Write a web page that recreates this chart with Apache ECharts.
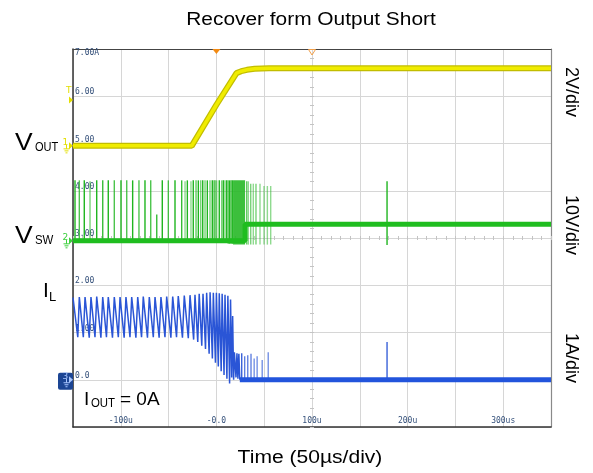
<!DOCTYPE html>
<html>
<head>
<meta charset="utf-8">
<script src="https://cdn.jsdelivr.net/npm/echarts@6/dist/echarts.min.js"></script>
<style>
html,body{margin:0;padding:0;background:#ffffff;}
#chart{width:593px;height:473px;}
</style>
</head>
<body>
<div id="chart"></div>
<script>
// ---- tick labels (x in microseconds, y in divisions) ----
const xTickValues = [-100, 0, 100, 200, 300];
const xTickLabels = ['-100u', '-0.0', '100u', '200u', '300us'];
const yTickValues = [0, 1, 2, 3, 4, 5, 6, 7];
const yTickLabels = ['0.0', '1.00', '2.00', '3.00', '4.00', '5.00', '6.00', '7.00A'];

// ---- CH1 VOUT (divisions) ----
const voutT = [-150, -25.8, 0, 21, 26, 32, 40, 55, 350];
const voutV = [4.95, 4.95, 5.82, 6.49, 6.53, 6.56, 6.58, 6.59, 6.59];

// ---- CH2 VSW (divisions) ----
const vswBaseT = [-150, 30, 30, 350];
const vswBaseV = [2.94, 2.94, 3.29, 3.29];
const vswBurst = [[17.4, 30.0, 2.86, 4.22]];           // [tStart, tEnd, low, high]
const vswSpikes = [                                      // [t, low, high, strength]
  [-147.9, 2.94, 4.22, 1], [-143.4, 2.94, 4.22, 0.8], [-138.2, 2.94, 4.22, 1], [-132.2, 2.94, 4.2, 0.6],
  [-125.2, 2.94, 4.22, 1], [-118.9, 2.94, 4.22, 0.9], [-113.1, 2.94, 4.22, 1], [-106.8, 2.94, 4.22, 0.8],
  [-99.8, 2.94, 4.22, 1], [-93.8, 2.94, 4.22, 0.8], [-87.6, 2.94, 4.22, 1], [-81.0, 2.94, 4.22, 0.8],
  [-74.7, 2.94, 4.22, 1], [-68.7, 2.94, 4.22, 0.8], [-62.4, 2.94, 3.5, 0.9], [-56.6, 2.94, 4.22, 1],
  [-50.3, 2.94, 4.22, 0.8], [-43.3, 2.94, 4.22, 1], [-36.3, 2.94, 4.22, 0.9], [-32.8, 2.94, 4.2, 0.5],
  [-30.4, 2.94, 4.22, 1], [-26.6, 2.94, 4.2, 0.5], [-24.2, 2.94, 4.22, 1], [-21.3, 2.94, 4.22, 0.7],
  [-18.9, 2.94, 4.22, 1], [-16.4, 2.94, 4.22, 0.6], [-14.3, 2.94, 4.22, 1], [-11.9, 2.94, 4.22, 0.6],
  [-9.5, 2.94, 4.22, 1], [-6.7, 2.94, 4.22, 0.6], [-4.3, 2.94, 4.22, 1], [-2.8, 2.94, 4.22, 0.5],
  [-1.5, 2.94, 4.22, 0.9], [0.3, 2.94, 4.22, 0.6], [3.0, 2.94, 4.22, 1], [5.5, 2.94, 4.22, 0.6],
  [7.2, 2.90, 4.22, 1], [9.0, 2.90, 4.22, 0.6], [10.8, 2.90, 4.22, 1], [12.4, 2.88, 4.22, 0.7],
  [13.9, 2.88, 4.22, 1], [15.3, 2.88, 4.22, 0.7], [16.6, 2.88, 4.22, 1],
  [31.7, 2.86, 4.2, 0.7], [33.4, 2.86, 4.2, 0.5], [35.9, 2.86, 4.15, 0.6], [38.6, 2.86, 4.15, 0.5],
  [41.4, 2.86, 4.15, 0.6], [45.6, 2.86, 4.15, 0.5], [49.8, 2.86, 4.1, 0.5], [53.3, 2.86, 4.1, 0.5],
  [56.8, 2.86, 4.1, 0.5], [178.5, 2.85, 4.2, 1]
];

// ---- CH3 IL (divisions) ----
const ilT = [-150, -145.0, -143.4, -139.2, -137.4, -133.0, -131.2, -127.0, -125.2, -120.8, -118.9, -115.0,
  -113.1, -108.7, -106.8, -102.6, -100.8, -96.5, -94.6, -90.4, -88.6, -84.2, -82.3, -78.3, -76.5, -72.1,
  -70.2, -66.0, -64.2, -59.9, -58.0, -53.8, -52.0, -47.6, -45.7, -41.7, -39.9, -35.5, -33.6, -29.4, -27.6,
  -23.8, -22.4, -19.5, -18.0, -15.3, -14.0, -11.4, -10.2, -7.6, -6.6, -4.2, -3.2, -1.0, 0.0, 2.0, 3.0, 5.0,
  6.0, 8.0, 9.0, 11.0, 12.0, 13.8, 14.8, 16.0, 17.0, 18.0, 18.8, 19.5, 20.5, 21.5, 22.5, 23.5, 24.5];
const ilV = [1.74, 0.90, 1.75, 0.90, 1.75, 0.89, 1.75, 0.90, 1.76, 0.89, 1.75, 0.90,
  1.75, 0.89, 1.75, 0.90, 1.75, 0.89, 1.75, 0.90, 1.75, 0.89, 1.75, 0.90, 1.76, 0.89,
  1.75, 0.90, 1.75, 0.89, 1.75, 0.90, 1.76, 0.89, 1.76, 0.90, 1.77, 0.89, 1.78, 0.88, 1.79,
  0.85, 1.80, 0.80, 1.82, 0.72, 1.82, 0.65, 1.84, 0.55, 1.85, 0.45, 1.84, 0.36, 1.84, 0.28, 1.83, 0.18,
  1.82, 0.10, 1.80, 0.02, 1.78, -0.08, 1.70, 0.05, 1.35, 0.0, 0.58, 0.56, 0.05, 0.56, 0.02, 0.55, 0.0];
const ilBaseT = [24.5, 350];
const ilBaseV = [0, 0];
const ilSpikes = [
  [26.5, 0, 0.56, 1], [29.6, 0, 0.5, 0.8], [32.8, 0, 0.52, 0.8], [36.2, 0, 0.55, 0.8], [39.5, 0, 0.45, 0.7],
  [42.6, 0, 0.5, 0.7], [47.9, 0, 0.42, 0.7], [54.2, 0, 0.58, 0.7], [178.5, 0, 0.8, 1]
];

// ---- channel markers ----
const chGround = [4.95, 2.94, 0];
const chNames = ['1', '2', '3'];
const triggerLevel = 5.92;
const triggerTime = 0;
const centerTime = 100;

const chart = echarts.init(document.getElementById('chart'), null, { renderer: 'canvas' });

const gridLine = { show: true, lineStyle: { color: '#d6d6d6', width: 1 } };
const labelFont = { fontFamily: 'DejaVu Sans Mono', fontSize: 8, color: '#34507a' };
const tickColor = '#c4c4c4';

function spikeItem(color, width) {
  return function (params, api) {
    const a = api.coord([api.value(0), api.value(1)]);
    const b = api.coord([api.value(0), api.value(2)]);
    return {
      type: 'line',
      shape: { x1: a[0], y1: a[1], x2: b[0], y2: b[1] },
      style: { stroke: color, lineWidth: width, opacity: api.value(3) }
    };
  };
}
function rectItem(color) {
  return function (params, api) {
    const a = api.coord([api.value(0), api.value(3)]);
    const b = api.coord([api.value(1), api.value(2)]);
    return {
      type: 'rect',
      shape: { x: a[0], y: a[1], width: b[0] - a[0], height: b[1] - a[1] },
      style: { fill: color, opacity: 0.9 }
    };
  };
}
const zip = (a, b) => a.map((v, i) => [v, b[i]]);

const option = {
  animation: false,
  backgroundColor: '#ffffff',
  grid: { left: 73, right: 42, top: 49, bottom: 46, containLabel: false },
  xAxis: [
    { type: 'value', min: -150, max: 350, interval: 50, position: 'bottom',
      axisLine: { show: true, onZero: false, lineStyle: { color: '#333', width: 1.5 } },
      axisTick: { show: false }, splitLine: gridLine,
      axisLabel: Object.assign({ inside: true, margin: 2,
        formatter: v => { const i = xTickValues.indexOf(v); return i >= 0 ? xTickLabels[i] : ''; } }, labelFont) },
    { type: 'value', min: -150, max: 350, interval: 50, position: 'top',
      axisLine: { show: true, onZero: false, lineStyle: { color: '#444', width: 1.2 } },
      axisTick: { show: false }, axisLabel: { show: false }, splitLine: { show: false } },
    { type: 'value', min: -150, max: 350, interval: 50, position: 'bottom', offset: -189,
      axisLine: { show: false, onZero: false }, axisLabel: { show: false }, splitLine: { show: false },
      axisTick: { show: true, inside: true, length: 2, lineStyle: { color: tickColor } },
      minorTick: { show: true, splitNumber: 5, length: 2, lineStyle: { color: tickColor } } },
    { type: 'value', min: -150, max: 350, interval: 50, position: 'top', offset: -189,
      axisLine: { show: false, onZero: false }, axisLabel: { show: false }, splitLine: { show: false },
      axisTick: { show: true, inside: true, length: 2, lineStyle: { color: tickColor } },
      minorTick: { show: true, splitNumber: 5, length: 2, lineStyle: { color: tickColor } } }
  ],
  yAxis: [
    { type: 'value', min: -1, max: 7, interval: 1, position: 'left',
      axisLine: { show: true, onZero: false, lineStyle: { color: '#333', width: 1.5 } },
      axisTick: { show: false }, splitLine: gridLine,
      axisLabel: Object.assign({ inside: true, margin: 2, verticalAlign: 'bottom',
        formatter: v => { const i = yTickValues.indexOf(v); return (i >= 0 && i < yTickValues.length - 1) ? yTickLabels[i] : ''; } }, labelFont) },
    { type: 'value', min: -1, max: 7, interval: 1, position: 'left',
      axisLine: { show: false, onZero: false }, axisTick: { show: false }, splitLine: { show: false },
      axisLabel: Object.assign({ inside: true, margin: 2, verticalAlign: 'top',
        formatter: v => (v === yTickValues[yTickValues.length - 1] ? yTickLabels[yTickLabels.length - 1] : '') }, labelFont) },
    { type: 'value', min: -1, max: 7, interval: 1, position: 'right',
      axisLine: { show: true, onZero: false, lineStyle: { color: '#8a8a8a', width: 1.2 } },
      axisTick: { show: false }, axisLabel: { show: false }, splitLine: { show: false } },
    { type: 'value', min: -1, max: 7, interval: 1, position: 'left', offset: -239,
      axisLine: { show: false, onZero: false }, axisLabel: { show: false }, splitLine: { show: false },
      axisTick: { show: true, inside: true, length: 2, lineStyle: { color: tickColor } },
      minorTick: { show: true, splitNumber: 5, length: 2, lineStyle: { color: tickColor } } },
    { type: 'value', min: -1, max: 7, interval: 1, position: 'right', offset: -239,
      axisLine: { show: false, onZero: false }, axisLabel: { show: false }, splitLine: { show: false },
      axisTick: { show: true, inside: true, length: 2, lineStyle: { color: tickColor } },
      minorTick: { show: true, splitNumber: 5, length: 2, lineStyle: { color: tickColor } } }
  ],
  series: [
    { name: 'VSW base', type: 'line', data: zip(vswBaseT, vswBaseV), symbol: 'none',
      lineStyle: { color: '#1fbd1f', width: 5 }, z: 3 },
    { name: 'VSW burst', type: 'custom', data: vswBurst, renderItem: rectItem('#27b827'), z: 3 },
    { name: 'VSW spikes', type: 'custom', data: vswSpikes, renderItem: spikeItem('#1fb51f', 1.4), z: 3 },
    { name: 'IL', type: 'line', data: zip(ilT, ilV), symbol: 'none',
      lineStyle: { color: '#2a55d6', width: 1.5 }, z: 3 },
    { name: 'IL base', type: 'line', data: zip(ilBaseT, ilBaseV), symbol: 'none',
      lineStyle: { color: '#2254dc', width: 5 }, z: 3 },
    { name: 'IL spikes', type: 'custom', data: ilSpikes, renderItem: spikeItem('#2a55d6', 1.3), z: 3 },
    { name: 'VOUT edge', type: 'line', data: zip(voutT, voutV), symbol: 'none',
      lineStyle: { color: '#c2bd00', width: 6 }, z: 4 },
    { name: 'VOUT', type: 'line', data: zip(voutT, voutV), symbol: 'none',
      lineStyle: { color: '#f0ec00', width: 3.5 }, z: 4 }
  ]
};
chart.setOption(option);

// ---- annotations ----
const FONT = '"Liberation Sans", Arial, sans-serif';
function txt(x, y, text, size, o) {
  o = o || {};
  return { type: 'text', x: x, y: y, rotation: o.rot || 0, scaleX: o.sx || 1, z: 100,
    style: { text: text, fontSize: size, fontFamily: o.family || FONT, fontWeight: o.weight || 'normal',
      fill: o.color || '#000', align: o.align || 'left', verticalAlign: 'middle' } };
}
function seg(x1, y1, x2, y2, c, w) {
  return { type: 'line', z: 100, shape: { x1, y1, x2, y2 }, style: { stroke: c, lineWidth: w || 1 } };
}
function poly(pts, fill, stroke) {
  return { type: 'polygon', z: 100, shape: { points: pts },
    style: { fill: fill || 'none', stroke: stroke || null, lineWidth: 1 } };
}
function groundMark(name, y, c, box) {
  const g = [];
  const L = 73;
  if (box) g.push({ type: 'rect', z: 99, shape: { x: L - 15, y: y - 7, width: 15, height: 17, r: 2 }, style: { fill: box } });
  g.push(txt(L - 10.5, y - 3, name, 9, { color: c, family: 'DejaVu Sans' }));
  g.push(seg(L - 6.5, y - 1, L - 6.5, y + 3, c, 1));
  g.push(seg(L - 9.5, y + 3, L - 3.5, y + 3, c, 1));
  g.push(seg(L - 8.5, y + 5, L - 4.5, y + 5, c, 1));
  g.push(seg(L - 7.5, y + 7, L - 5.5, y + 7, c, 1));
  g.push(poly([[L - 4, y - 3.5], [L, y], [L - 4, y + 3.5]], c));
  return g;
}

function drawAnnotations() {
  const P = (t, v) => chart.convertToPixel({ xAxisIndex: 0, yAxisIndex: 0 }, [t, v]);
  const g = [];
  // title and axis title
  g.push(txt(311, 20, 'Recover form Output Short', 18, { align: 'center', sx: 1.16 }));
  g.push(txt(310, 458, 'Time (50µs/div)', 18, { align: 'center', sx: 1.17 }));
  // left channel names
  const yo = P(0, chGround[0])[1], ys = P(0, chGround[1])[1];
  g.push(txt(15, yo - 2, 'V', 23, { sx: 1.15 }));
  g.push(txt(35, yo + 2, 'OUT', 12, { sx: 0.92 }));
  g.push(txt(15, ys - 4, 'V', 23, { sx: 1.15 }));
  g.push(txt(35, ys, 'SW', 12, { sx: 0.95 }));
  g.push(txt(43, 291, 'I', 21));
  g.push(txt(49, 297, 'L', 13));
  // right scale labels
  g.push(txt(571, 92, '2V/div', 18, { align: 'center', rot: -Math.PI / 2 }));
  g.push(txt(571, 225, '10V/div', 18, { align: 'center', rot: -Math.PI / 2 }));
  g.push(txt(571, 358, '1A/div', 18, { align: 'center', rot: -Math.PI / 2 }));
  // I_OUT annotation
  g.push(txt(84, 400, 'I', 19));
  g.push(txt(91, 404, 'OUT', 12, { sx: 0.95 }));
  g.push(txt(120, 400, '= 0A', 19));
  // channel ground markers
  const cols = ['#e3df00', '#3ccf3c', '#a9c6ff'];
  chGround.forEach((v, i) => {
    const y = P(0, v)[1];
    groundMark(chNames[i], y, cols[i], i === 2 ? '#1c4594' : null).forEach(e => g.push(e));
  });
  // trigger level marker
  const yt = P(0, triggerLevel)[1];
  g.push(txt(66, yt - 9, 'T', 9, { color: '#e3df00', family: 'DejaVu Sans' }));
  g.push(poly([[69, yt - 3.5], [73, yt], [69, yt + 3.5]], '#e3df00'));
  // trigger time markers at top
  const xt = P(triggerTime, 0)[0], xc = P(centerTime, 0)[0];
  g.push(poly([[xt - 4, 49], [xt + 4, 49], [xt, 54]], '#f28a12'));
  g.push(poly([[xc - 3.5, 49.5], [xc + 3.5, 49.5], [xc, 55]], null, '#f2a04a'));
  chart.setOption({ graphic: g });
}
drawAnnotations();
</script>
</body>
</html>
